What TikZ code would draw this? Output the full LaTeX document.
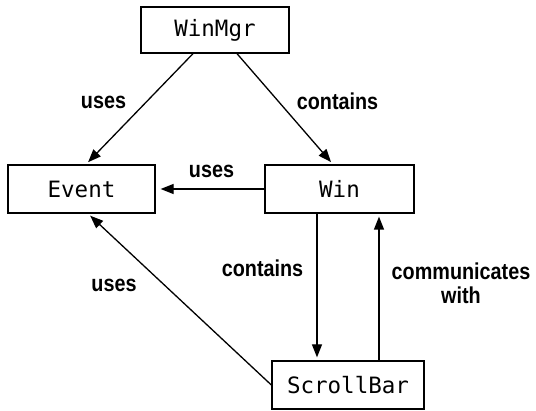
\documentclass[tikz,border=0pt]{standalone}
\usepackage{fontspec}
\setmainfont{Liberation Sans}
\setmonofont{DejaVu Sans Mono}
\usetikzlibrary{arrows.meta}
\newcommand\lblt[1]{\scalebox{0.86}[1]{#1}}
\tikzset{
  cls/.style={draw, line width=1.3pt, minimum height=48pt, inner sep=0pt,
    font=\ttfamily\fontsize{22.5}{24}\selectfont},
  lbl/.style={anchor=base, inner sep=0pt, font=\bfseries\fontsize{23}{23}\selectfont},
  conn/.style={line width=1.3pt, -{Triangle[length=13pt,width=10pt]}}
}
\begin{document}
\begin{tikzpicture}[x=1pt,y=-1pt]
\useasboundingbox (0,0) rectangle (536,411);
\node[cls, minimum width=148pt, minimum height=46pt] (WinMgr) at (215,30) {WinMgr};
\node[cls, minimum width=147pt] (Event) at (81.5,189) {Event};
\node[cls, minimum width=149pt] (Win) at (339.5,189) {Win};
\node[cls, minimum width=152pt] (ScrollBar) at (348,385) {ScrollBar};

\draw[conn, shorten >=3pt] ([xshift=-22pt]WinMgr.south) -- ([xshift=4.5pt]Event.north);
\draw[conn, shorten >=3pt] ([xshift=22pt]WinMgr.south) -- ([xshift=-6.5pt]Win.north);
\draw[conn, shorten >=5pt] (Win.west) -- (Event.east);
\draw[conn, shorten >=3pt] ([xshift=-22.5pt]Win.south) -- ([xshift=-22.5pt]Win.south |- ScrollBar.north);
\draw[conn, shorten >=3pt] ([xshift=31pt]ScrollBar.north) -- ([xshift=31pt]ScrollBar.north |- Win.south);
\draw[conn, shorten >=3pt] (ScrollBar.west) -- ([xshift=6.5pt]Event.south);

\node[lbl] (l1) at (103.5,109) {\lblt{uses}};
\node[lbl] (l2) at (337.5,110) {\lblt{contains}};
\node[lbl] (l3) at (211.5,178) {\lblt{uses}};
\node[lbl] (l4) at (262.5,277) {\lblt{contains}};
\node[lbl] (l5) at (461,280) {\lblt{\begin{tabular}[t]{@{}c@{}}communicates\\with\end{tabular}}};
\node[lbl] (l6) at (114,292) {\lblt{uses}};
\end{tikzpicture}
\end{document}
